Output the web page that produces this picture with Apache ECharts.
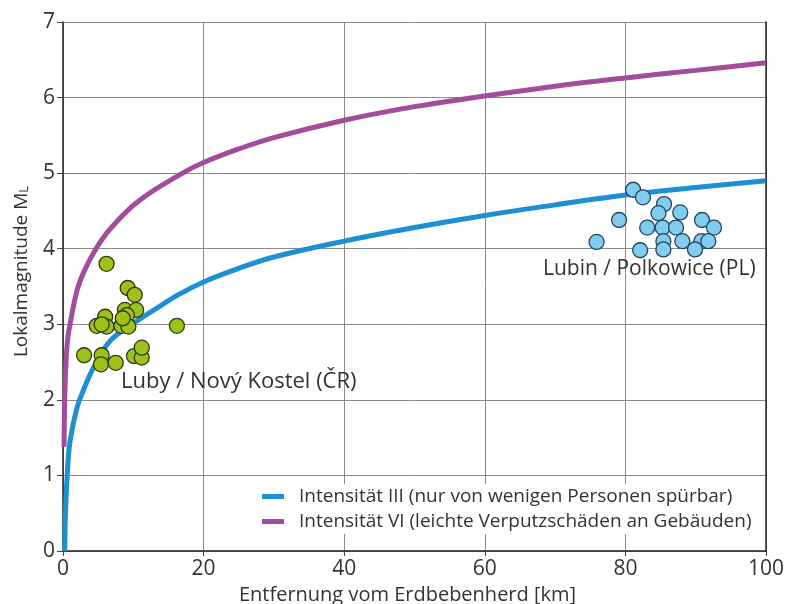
<!DOCTYPE html>
<html><head><meta charset="utf-8">
<script src="https://cdn.jsdelivr.net/npm/echarts@6/dist/echarts.min.js"></script>
<style>html,body{margin:0;padding:0;background:#fff}#c{width:801px;height:604px}</style>
</head><body><div id="c"></div>
<script>
const xTicks = [0, 20, 40, 60, 80, 100];
const yTicks = [0, 1, 2, 3, 4, 5, 6, 7];
const seriesNames = ['Intensität III (nur von wenigen Personen spürbar)', 'Intensität VI (leichte Verputzschäden an Gebäuden)'];
const curve3X = [0.25, 0.35, 0.6, 1.0, 2.0, 3.0, 4.3, 6.7, 9.8, 13.8, 16, 20, 25, 30, 40, 50, 60, 70, 80, 90, 100];
const curve3Y = [0, 0.5, 1.0, 1.45, 1.9, 2.15, 2.42, 2.78, 3.0, 3.24, 3.37, 3.56, 3.74, 3.89, 4.10, 4.28, 4.44, 4.58, 4.71, 4.81, 4.90];
const curve6X = [0.15, 0.3, 0.6, 1.0, 2.0, 3.0, 4.5, 6.6, 10.9, 17, 20, 25, 30, 40, 50, 60, 70, 80, 90, 100];
const curve6Y = [1.38, 2.2, 2.75, 3.0, 3.45, 3.7, 3.97, 4.25, 4.64, 5.0, 5.14, 5.32, 5.47, 5.70, 5.88, 6.02, 6.15, 6.26, 6.36, 6.46];
const lubyX = [6.2, 9.2, 10.2, 8.8, 10.4, 6.0, 9.1, 4.8, 6.2, 8.3, 9.3, 16.2, 5.5, 3.0, 5.5, 5.4, 7.5, 10.1, 11.2, 11.2, 8.5];
const lubyY = [3.80, 3.48, 3.39, 3.19, 3.19, 3.10, 3.12, 2.98, 2.97, 2.98, 2.97, 2.98, 3.0, 2.59, 2.59, 2.47, 2.49, 2.58, 2.56, 2.69, 3.08];
const lubinX = [81.1, 82.5, 85.5, 84.7, 87.8, 79.1, 83.1, 85.3, 87.2, 90.9, 92.6, 75.9, 85.4, 88.1, 90.8, 91.8, 82.1, 85.4, 89.9];
const lubinY = [4.78, 4.68, 4.59, 4.47, 4.48, 4.38, 4.28, 4.28, 4.28, 4.38, 4.28, 4.09, 4.10, 4.10, 4.10, 4.10, 3.98, 3.99, 3.99];
const labelLuby = 'Luby / Nový Kostel (ČR)';
const labelLubin = 'Lubin / Polkowice (PL)';

const zip = (a, b) => a.map((v, i) => [v, b[i]]);
const FONT = 'Open Sans';
const chart = echarts.init(document.getElementById('c'), null, {renderer: 'canvas'});
const pointStyle = (fill, border) => ({color: fill, borderColor: border, borderWidth: 1.3, opacity: 1});
chart.setOption({
  animation: false,
  backgroundColor: '#fff',
  textStyle: {fontFamily: FONT},
  grid: {left: 63, right: 35, top: 22, bottom: 53, containLabel: false, outerBoundsMode: 'none'},
  xAxis: {
    type: 'value', min: 0, max: 100, interval: 20,
    name: 'Entfernung vom Erdbebenherd [km]', nameLocation: 'middle', nameGap: 33,
    nameTextStyle: {fontFamily: FONT, fontSize: 20, color: '#333', padding: [0, 14, 0, 0]},
    axisLine: {show: true, lineStyle: {color: '#222', width: 1.5}},
    axisTick: {show: true, length: 5, lineStyle: {color: '#444'}},
    axisLabel: {fontFamily: FONT, fontSize: 21, color: '#333', margin: 8},
    splitLine: {show: true, lineStyle: {color: '#8a8a8a', width: 1}}
  },
  yAxis: [{
    type: 'value', min: 0, max: 7, interval: 1,
    name: '{a|Lokalmagnitude M}{b|L}', nameLocation: 'middle', nameGap: 32, nameRotate: 90,
    nameTextStyle: {padding: [0, 0, 0, 30], rich: {a: {fontFamily: FONT, fontSize: 19, color: '#333'}, b: {fontFamily: FONT, fontSize: 13, color: '#333', verticalAlign: 'bottom'}}},
    axisLine: {show: true, lineStyle: {color: '#222', width: 1.5}},
    axisTick: {show: true, length: 6, lineStyle: {color: '#444'}},
    axisLabel: {fontFamily: FONT, fontSize: 21, color: '#333', margin: 8},
    splitLine: {show: true, lineStyle: {color: '#8a8a8a', width: 1}}
  }, {
    type: 'value', min: 0, max: 7, interval: 1, position: 'right',
    axisLine: {show: true, lineStyle: {color: '#222', width: 1.5}},
    axisTick: {show: false}, axisLabel: {show: false}, splitLine: {show: false}
  }],
  legend: {
    left: 252, top: 484, orient: 'vertical', itemGap: 6,
    backgroundColor: '#fff', padding: [3, 10, 3, 10],
    icon: 'rect', itemWidth: 22, itemHeight: 5,
    textStyle: {fontFamily: FONT, fontSize: 19, color: '#333', padding: [0, 0, 0, 10]},
    data: seriesNames
  },
  series: [
    {name: seriesNames[0], type: 'line', data: zip(curve3X, curve3Y), smooth: 0.4, showSymbol: false,
     lineStyle: {color: '#1d8fd3', width: 5}, itemStyle: {color: '#1d8fd3'}, z: 3},
    {name: seriesNames[1], type: 'line', data: zip(curve6X, curve6Y), smooth: 0.4, showSymbol: false,
     lineStyle: {color: '#a24c9e', width: 5}, itemStyle: {color: '#a24c9e'}, z: 3},
    {name: 'Luby', type: 'scatter', data: zip(lubyX, lubyY), symbolSize: 15,
     itemStyle: pointStyle('#9dc21c', '#2e3a0e'), z: 4},
    {name: 'Lubin', type: 'scatter', data: zip(lubinX, lubinY), symbolSize: 15,
     itemStyle: pointStyle('#80cdf0', '#22465c'), z: 4}
  ],
  graphic: [
    {type: 'text', left: 121, top: 371, z: 10, style: {text: labelLuby, fontFamily: FONT, fontSize: 22, fill: '#333'}},
    {type: 'text', left: 543, top: 259, z: 10, style: {text: labelLubin, fontFamily: FONT, fontSize: 21, fill: '#333'}}
  ]
});
</script></body></html>
